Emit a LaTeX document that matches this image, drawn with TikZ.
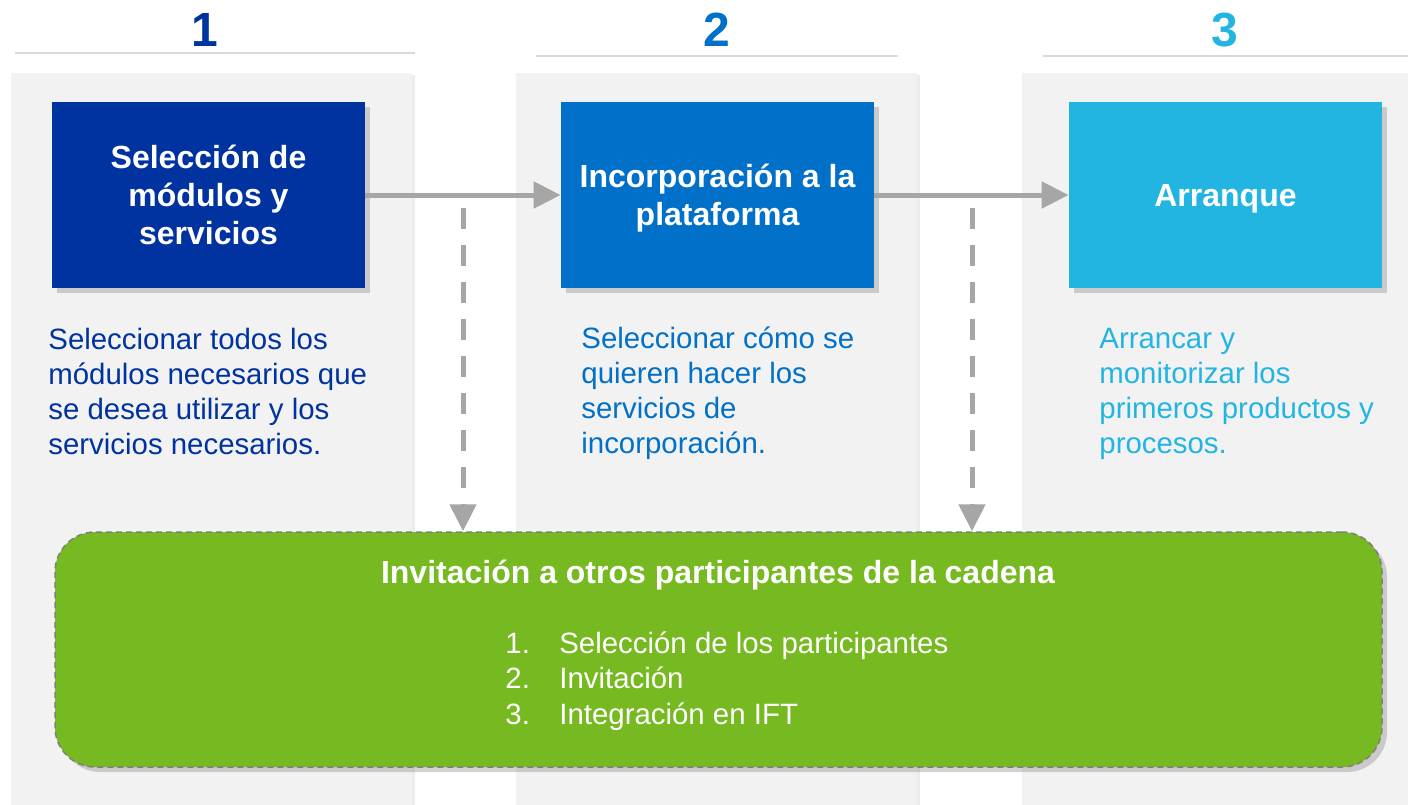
\documentclass[tikz,border=0pt]{standalone}
\usepackage{fontspec}
\setmainfont{Liberation Sans}
\usetikzlibrary{arrows.meta,shadows}
\definecolor{bluedark}{HTML}{0033A0}
\definecolor{bluemid}{HTML}{0070C8}
\definecolor{bluelight}{HTML}{23B5E2}
\definecolor{greenbox}{HTML}{76B921}
\definecolor{arrowgray}{HTML}{A6A6A6}
\definecolor{colgray}{HTML}{F2F2F2}
\definecolor{rulegray}{HTML}{D9D9D9}
\definecolor{bordergray}{HTML}{7F7F7F}
\tikzset{
  stepbox/.style={minimum width=156.5pt,minimum height=93pt,inner sep=0pt,align=center,text=white,
    text depth=0pt,font=\fontsize{16}{19}\selectfont\bfseries,
    drop shadow={shadow xshift=2.5pt,shadow yshift=-2.5pt,opacity=0.35}},
  desc/.style={anchor=north west,inner sep=0pt,align=left,font=\fontsize{14.7}{17.5}\selectfont},
  numlabel/.style={font=\fontsize{24}{28}\selectfont\bfseries},
  column/.style={fill=colgray,drop shadow={shadow xshift=1.5pt,shadow yshift=-1pt,opacity=0.15}},
  flow/.style={line width=2.5pt,draw=arrowgray,-{Triangle[length=13.5pt,width=13pt]}},
  invite/.style={flow,dash pattern=on 10.5pt off 8pt},
}
\begin{document}
\begin{tikzpicture}[x=0.5pt,y=-0.5pt]
\clip (0,0) rectangle (1408,804);
% columns
\path [column] (11,73) rectangle (412,830);
\path [column] (516,73) rectangle (917,830);
\path [column] (1022,73) rectangle (1430,830);
% headers
\draw [rulegray,line width=0.75pt] (15,53) -- (415,53);
\draw [rulegray,line width=0.75pt] (536,56) -- (898,56);
\draw [rulegray,line width=0.75pt] (1043,56) -- (1408,56);
\node [numlabel,text=bluedark] (num1) at (205,30) {1};
\node [numlabel,text=bluemid] (num2) at (717,30) {2};
\node [numlabel,text=bluelight] (num3) at (1225,30) {3};
% steps
\node [stepbox,fill=bluedark] (sel) at (208.5,195) {Selección de\\módulos y\\servicios};
\node [stepbox,fill=bluemid] (inc) at (717.5,195) {Incorporación a la\\plataforma};
\node [stepbox,fill=bluelight] (arr) at (1225.5,195) {Arranque};
\draw [flow] (sel.east) -- (inc.west);
\draw [flow] (inc.east) -- (arr.west);
\node [desc,text=bluedark] (seltext) at (48,328) {Seleccionar todos los\\módulos necesarios que\\se desea utilizar y los\\servicios necesarios.};
\node [desc,text=bluemid] (inctext) at (581,326) {Seleccionar cómo se\\quieren hacer los\\servicios de\\incorporación.};
\node [desc,text=bluelight] (arrtext) at (1099,328) {Arrancar y\\monitorizar los\\primeros productos y\\procesos.};
% invitation
\node [minimum width=663.5pt,minimum height=117.5pt,rounded corners=20pt,fill=greenbox,
  draw=bordergray,line width=0.75pt,dash pattern=on 3pt off 2pt,
  drop shadow={shadow xshift=2.5pt,shadow yshift=-2.5pt,opacity=0.35}] (inv) at (718.5,649.5) {};
\node [text=white,font=\fontsize{16}{19}\selectfont\bfseries] (invtitle) at (718,575) {Invitación a otros participantes de la cadena};
\node [desc,text=white,font=\fontsize{14.7}{17.75}\selectfont] (invlist) at (505,631)
  {\makebox[27pt][l]{1.}Selección de los participantes\\\makebox[27pt][l]{2.}Invitación\\\makebox[27pt][l]{3.}Integración en IFT};
\coordinate (drop1) at (463,208);
\coordinate (drop2) at (972,208);
\draw [invite] (drop1) -- (drop1 |- inv.north);
\draw [invite] (drop2) -- (drop2 |- inv.north);
\end{tikzpicture}
\end{document}
